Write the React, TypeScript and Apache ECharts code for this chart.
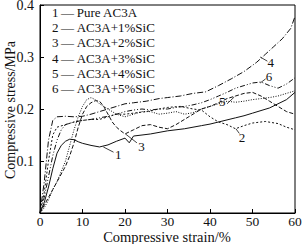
import React, { useEffect, useRef } from "react";
import * as echarts from "echarts";

const seriesNames = ["Pure AC3A", "AC3A+1%SiC", "AC3A+2%SiC", "AC3A+3%SiC", "AC3A+4%SiC", "AC3A+5%SiC"];
const seriesIds = ["1", "2", "3", "4", "5", "6"];
const xTitle = "Compressive strain/%";
const yTitle = "Compressive stress/MPa";

const strain1 = [0, 1, 2, 3, 4, 5, 6, 7, 8, 9, 10, 12, 14, 16, 18, 20, 21, 22, 24, 26, 28, 30, 32, 34, 36, 38, 40, 42, 44, 46, 48, 50, 52, 54, 56, 58, 60];
const stress1 = [0, 0.02, 0.05, 0.085, 0.115, 0.13, 0.138, 0.142, 0.141, 0.137, 0.134, 0.13, 0.127, 0.131, 0.138, 0.144, 0.135, 0.148, 0.15, 0.152, 0.155, 0.158, 0.16, 0.162, 0.165, 0.168, 0.171, 0.175, 0.179, 0.183, 0.187, 0.192, 0.197, 0.202, 0.21, 0.218, 0.232];

const strain2 = [0, 1, 2, 3, 4, 6, 8, 10, 12, 14, 16, 18, 20, 22, 25, 28, 30, 33, 36, 38, 40, 42, 44, 46, 48, 50, 53, 56, 58, 60];
const stress2 = [0, 0.04, 0.1, 0.15, 0.165, 0.17, 0.175, 0.178, 0.18, 0.18, 0.185, 0.19, 0.19, 0.192, 0.195, 0.2, 0.203, 0.205, 0.2, 0.198, 0.185, 0.175, 0.17, 0.162, 0.168, 0.173, 0.176, 0.172, 0.165, 0.16];

const strain3 = [0, 1, 2, 3, 4, 5, 6, 7, 8, 9, 10, 11, 12, 13, 14, 15, 16, 17, 18, 19, 20, 22, 24, 26, 28, 30, 32, 34, 36, 38, 40, 42, 44, 46, 48, 50, 52, 54, 56, 58, 60];
const stress3 = [0, 0.015, 0.03, 0.045, 0.06, 0.075, 0.09, 0.11, 0.135, 0.165, 0.19, 0.205, 0.212, 0.216, 0.215, 0.205, 0.19, 0.175, 0.165, 0.158, 0.152, 0.16, 0.168, 0.17, 0.165, 0.162, 0.17, 0.18, 0.19, 0.2, 0.205, 0.212, 0.22, 0.225, 0.23, 0.232, 0.225, 0.215, 0.205, 0.195, 0.19];

const strain4 = [0, 1, 2, 3, 4, 6, 8, 10, 12, 14, 16, 18, 20, 22, 25, 28, 30, 33, 36, 39, 42, 45, 48, 51, 53, 55, 57, 59, 60];
const stress4 = [0, 0.06, 0.14, 0.178, 0.185, 0.186, 0.185, 0.186, 0.19, 0.195, 0.2, 0.205, 0.21, 0.212, 0.215, 0.22, 0.222, 0.225, 0.23, 0.233, 0.245, 0.258, 0.272, 0.29, 0.305, 0.32, 0.335, 0.355, 0.378];

const strain5 = [0, 1, 2, 3, 4, 5, 6, 7, 8, 9, 10, 11, 12, 13, 14, 16, 18, 20, 22, 24, 26, 28, 30, 32, 34, 36, 38, 40, 42, 44, 46, 48, 50, 52, 54, 56, 58, 60];
const stress5 = [0, 0.01, 0.025, 0.045, 0.06, 0.08, 0.1, 0.13, 0.16, 0.185, 0.205, 0.218, 0.222, 0.218, 0.21, 0.2, 0.19, 0.185, 0.19, 0.195, 0.195, 0.19, 0.192, 0.195, 0.19, 0.193, 0.2, 0.205, 0.21, 0.215, 0.213, 0.215, 0.218, 0.22, 0.222, 0.225, 0.23, 0.235];

const strain6 = [0, 1, 2, 3, 4, 5, 6, 8, 10, 12, 14, 16, 18, 20, 22, 24, 26, 28, 30, 32, 34, 36, 38, 40, 42, 44, 46, 48, 50, 52, 54, 56, 58, 60];
const stress6 = [0, 0.03, 0.07, 0.11, 0.14, 0.16, 0.17, 0.175, 0.178, 0.18, 0.183, 0.186, 0.19, 0.195, 0.198, 0.2, 0.198, 0.2, 0.2, 0.203, 0.205, 0.208, 0.212, 0.218, 0.225, 0.232, 0.24, 0.245, 0.25, 0.252, 0.245, 0.24, 0.248, 0.26];

const strains = [strain1, strain2, strain3, strain4, strain5, strain6];
const stresses = [stress1, stress2, stress3, stress4, stress5, stress6];

// curve label anchors in data units: [label strain, label stress, leader start strain, stress, leader end strain, stress]
const labelAnchors = [
  [18.4, 0.112, 14.9, 0.127, 17.3, 0.117],
  [47.5, 0.146, 46.1, 0.162, 46.9, 0.153],
  [23.9, 0.127, 20.1, 0.152, 22.8, 0.135],
  [54.3, 0.29, 51.8, 0.3, 53.5, 0.292],
  [42.9, 0.215, 45.7, 0.223, 44.0, 0.21],
  [53.9, 0.262, 51.8, 0.25, 53.1, 0.258],
];

const dashStyles: any[] = ["solid", [2, 2], [4, 2], [6, 2, 1, 2], [1, 1.5], [5, 2, 1, 2, 1, 2]];

const FONT = "'Liberation Serif', 'Times New Roman', serif";

export default function App() {
  const ref = useRef<HTMLDivElement>(null);
  useEffect(() => {
    if (!ref.current) return;
    const chart = echarts.init(ref.current, null, { renderer: "svg" });
    const series = seriesIds.map((id, i) => ({
      name: seriesNames[i],
      type: "line",
      showSymbol: false,
      symbol: "none",
      data: strains[i].map((s, j) => [s, stresses[i][j]]),
      lineStyle: { color: "#111", width: 1, type: dashStyles[i] },
    }));
    chart.setOption({
      animation: false,
      grid: {
        left: 40,
        right: 7,
        top: 5,
        bottom: 31,
        show: true,
        borderColor: "#000",
        borderWidth: 1,
        outerBoundsMode: "none",
        containLabel: false,
      },
      xAxis: {
        type: "value",
        min: 0,
        max: 60,
        interval: 10,
        axisLine: { lineStyle: { color: "#000" } },
        axisTick: { inside: true, length: 4, lineStyle: { color: "#000" } },
        axisLabel: { fontFamily: FONT, fontSize: 13.5, color: "#111", margin: 1 },
        splitLine: { show: false },
      },
      yAxis: {
        type: "value",
        min: 0,
        max: 0.4,
        interval: 0.1,
        axisLine: { lineStyle: { color: "#000" } },
        axisTick: { inside: true, length: 4, lineStyle: { color: "#000" } },
        axisLabel: {
          fontFamily: FONT,
          fontSize: 14,
          color: "#111",
          margin: 6,
          formatter: (v: number) => (v === 0 ? "" : v.toFixed(1)),
        },
        splitLine: { show: false },
      },
      series,
    });

    const graphics: any[] = [
      {
        type: "text",
        x: 167,
        y: 236.5,
        style: { text: xTitle, fontFamily: FONT, fontSize: 14.5, fill: "#111", align: "center", verticalAlign: "middle" },
      },
      {
        type: "text",
        x: 10,
        y: 110,
        rotation: Math.PI / 2,
        style: { text: yTitle, fontFamily: FONT, fontSize: 14, fill: "#111", align: "center", verticalAlign: "middle" },
      },
    ];
    seriesIds.forEach((id, i) => {
      graphics.push({
        type: "text",
        left: 52,
        top: 6 + i * 15.2,
        style: { text: id + "\u2009—\u2009" + seriesNames[i], fontFamily: FONT, fontSize: 13, fill: "#111" },
      });
      const a = labelAnchors[i];
      const p = chart.convertToPixel({ gridIndex: 0 }, [a[0], a[1]]) as number[];
      const p1 = chart.convertToPixel({ gridIndex: 0 }, [a[2], a[3]]) as number[];
      const p2 = chart.convertToPixel({ gridIndex: 0 }, [a[4], a[5]]) as number[];
      graphics.push({
        type: "text",
        x: p[0],
        y: p[1],
        style: { text: id, fontFamily: FONT, fontSize: 13, fill: "#111", align: "center", verticalAlign: "middle" },
      });
      graphics.push({
        type: "line",
        shape: { x1: p1[0], y1: p1[1], x2: p2[0], y2: p2[1] },
        style: { stroke: "#111", lineWidth: 0.8 },
      });
    });
    chart.setOption({ graphic: graphics });
    return () => chart.dispose();
  }, []);
  return <div ref={ref} style={{ position: "fixed", left: 0, top: 0, width: 302, height: 244, background: "#fff" }} />;
}
